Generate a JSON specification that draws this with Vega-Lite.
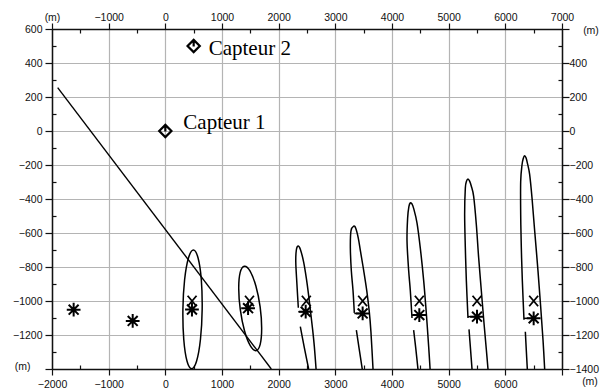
{
  "$schema": "https://vega.github.io/schema/vega-lite/v6.json",
  "width": 510,
  "height": 340,
  "autosize": {"type": "none"},
  "padding": {"left": 52, "top": 29, "right": 49, "bottom": 23},
  "background": "white",
  "config": {
    "view": {"stroke": null},
    "axis": {
      "domainColor": "#111",
      "domainWidth": 1.5,
      "tickColor": "#111",
      "tickWidth": 1.2,
      "labelFont": "Liberation Sans",
      "labelFontSize": 10.5,
      "labelColor": "#111",
      "labelFlush": false,
      "labelOverlap": false,
      "title": null
    }
  },
  "datasets": {
    "open": [
      {"k": "c3", "o": 0, "x": 2347, "y": -1040}, {"k": "c3", "o": 1, "x": 2322, "y": -900}, {"k": "c3", "o": 2, "x": 2302, "y": -770}, {"k": "c3", "o": 3, "x": 2312, "y": -700}, {"k": "c3", "o": 4, "x": 2342, "y": -676}, {"k": "c3", "o": 5, "x": 2382, "y": -695}, {"k": "c3", "o": 6, "x": 2440, "y": -770}, {"k": "c3", "o": 7, "x": 2490, "y": -870}, {"k": "c3", "o": 8, "x": 2530, "y": -970}, {"k": "c3", "o": 9, "x": 2565, "y": -1070}, {"k": "c3", "o": 10, "x": 2600, "y": -1170}, {"k": "c3", "o": 11, "x": 2630, "y": -1270}, {"k": "c3", "o": 12, "x": 2660, "y": -1400},
      {"k": "c3l", "o": 0, "x": 2382, "y": -1151}, {"k": "c3l", "o": 1, "x": 2450, "y": -1270}, {"k": "c3l", "o": 2, "x": 2529, "y": -1400},
      {"k": "c3h", "o": 0, "x": 2347, "y": -1063}, {"k": "c3h", "o": 1, "x": 2477, "y": -1063},
      {"k": "c4", "o": 0, "x": 3335, "y": -1070}, {"k": "c4", "o": 1, "x": 3312, "y": -938}, {"k": "c4", "o": 2, "x": 3282, "y": -821}, {"k": "c4", "o": 3, "x": 3265, "y": -685}, {"k": "c4", "o": 4, "x": 3276, "y": -588}, {"k": "c4", "o": 5, "x": 3324, "y": -559}, {"k": "c4", "o": 6, "x": 3360, "y": -572}, {"k": "c4", "o": 7, "x": 3405, "y": -630}, {"k": "c4", "o": 8, "x": 3445, "y": -710}, {"k": "c4", "o": 9, "x": 3500, "y": -820}, {"k": "c4", "o": 10, "x": 3555, "y": -940}, {"k": "c4", "o": 11, "x": 3598, "y": -1060}, {"k": "c4", "o": 12, "x": 3628, "y": -1180}, {"k": "c4", "o": 13, "x": 3665, "y": -1400},
      {"k": "c4l", "o": 0, "x": 3371, "y": -1171}, {"k": "c4l", "o": 1, "x": 3420, "y": -1280}, {"k": "c4l", "o": 2, "x": 3475, "y": -1400},
      {"k": "c4h", "o": 0, "x": 3335, "y": -1073}, {"k": "c4h", "o": 1, "x": 3482, "y": -1073},
      {"k": "c5", "o": 0, "x": 4353, "y": -1100}, {"k": "c5", "o": 1, "x": 4323, "y": -938}, {"k": "c5", "o": 2, "x": 4294, "y": -821}, {"k": "c5", "o": 3, "x": 4265, "y": -647}, {"k": "c5", "o": 4, "x": 4276, "y": -511}, {"k": "c5", "o": 5, "x": 4298, "y": -445}, {"k": "c5", "o": 6, "x": 4323, "y": -423}, {"k": "c5", "o": 7, "x": 4350, "y": -428}, {"k": "c5", "o": 8, "x": 4382, "y": -455}, {"k": "c5", "o": 9, "x": 4441, "y": -540}, {"k": "c5", "o": 10, "x": 4500, "y": -690}, {"k": "c5", "o": 11, "x": 4559, "y": -880}, {"k": "c5", "o": 12, "x": 4606, "y": -1074}, {"k": "c5", "o": 13, "x": 4647, "y": -1268}, {"k": "c5", "o": 14, "x": 4672, "y": -1400},
      {"k": "c5l", "o": 0, "x": 4382, "y": -1171}, {"k": "c5l", "o": 1, "x": 4420, "y": -1280}, {"k": "c5l", "o": 2, "x": 4458, "y": -1400},
      {"k": "c5h", "o": 0, "x": 4353, "y": -1083}, {"k": "c5h", "o": 1, "x": 4482, "y": -1083},
      {"k": "c6", "o": 0, "x": 5341, "y": -1100}, {"k": "c6", "o": 1, "x": 5312, "y": -880}, {"k": "c6", "o": 2, "x": 5294, "y": -685}, {"k": "c6", "o": 3, "x": 5282, "y": -491}, {"k": "c6", "o": 4, "x": 5294, "y": -336}, {"k": "c6", "o": 5, "x": 5315, "y": -295}, {"k": "c6", "o": 6, "x": 5341, "y": -282}, {"k": "c6", "o": 7, "x": 5370, "y": -295}, {"k": "c6", "o": 8, "x": 5400, "y": -325}, {"k": "c6", "o": 9, "x": 5441, "y": -385}, {"k": "c6", "o": 10, "x": 5488, "y": -550}, {"k": "c6", "o": 11, "x": 5529, "y": -744}, {"k": "c6", "o": 12, "x": 5576, "y": -938}, {"k": "c6", "o": 13, "x": 5624, "y": -1132}, {"k": "c6", "o": 14, "x": 5665, "y": -1287}, {"k": "c6", "o": 15, "x": 5694, "y": -1400},
      {"k": "c6l", "o": 0, "x": 5359, "y": -1167}, {"k": "c6l", "o": 1, "x": 5385, "y": -1280}, {"k": "c6l", "o": 2, "x": 5412, "y": -1400},
      {"k": "c6h", "o": 0, "x": 5341, "y": -1092}, {"k": "c6h", "o": 1, "x": 5500, "y": -1092},
      {"k": "c7", "o": 0, "x": 6329, "y": -1110}, {"k": "c7", "o": 1, "x": 6300, "y": -880}, {"k": "c7", "o": 2, "x": 6282, "y": -685}, {"k": "c7", "o": 3, "x": 6271, "y": -491}, {"k": "c7", "o": 4, "x": 6271, "y": -297}, {"k": "c7", "o": 5, "x": 6294, "y": -200}, {"k": "c7", "o": 6, "x": 6318, "y": -160}, {"k": "c7", "o": 7, "x": 6341, "y": -146}, {"k": "c7", "o": 8, "x": 6365, "y": -158}, {"k": "c7", "o": 9, "x": 6390, "y": -190}, {"k": "c7", "o": 10, "x": 6429, "y": -255}, {"k": "c7", "o": 11, "x": 6471, "y": -394}, {"k": "c7", "o": 12, "x": 6518, "y": -588}, {"k": "c7", "o": 13, "x": 6576, "y": -821}, {"k": "c7", "o": 14, "x": 6624, "y": -1035}, {"k": "c7", "o": 15, "x": 6665, "y": -1229}, {"k": "c7", "o": 16, "x": 6694, "y": -1400},
      {"k": "c7l", "o": 0, "x": 6353, "y": -1181}, {"k": "c7l", "o": 1, "x": 6370, "y": -1290}, {"k": "c7l", "o": 2, "x": 6388, "y": -1400},
      {"k": "c7h", "o": 0, "x": 6329, "y": -1102}, {"k": "c7h", "o": 1, "x": 6500, "y": -1102}
    ],
    "closed": [
      {"k": "e1", "o": 0, "x": 650, "y": -1050}, {"k": "e1", "o": 1, "x": 635, "y": -875}, {"k": "e1", "o": 2, "x": 578, "y": -747}, {"k": "e1", "o": 3, "x": 495, "y": -700}, {"k": "e1", "o": 4, "x": 408, "y": -747}, {"k": "e1", "o": 5, "x": 340, "y": -875}, {"k": "e1", "o": 6, "x": 310, "y": -1050}, {"k": "e1", "o": 7, "x": 325, "y": -1225}, {"k": "e1", "o": 8, "x": 382, "y": -1353}, {"k": "e1", "o": 9, "x": 465, "y": -1398}, {"k": "e1", "o": 10, "x": 552, "y": -1353}, {"k": "e1", "o": 11, "x": 620, "y": -1225},
      {"k": "e2", "o": 0, "x": 1600, "y": -1292}, {"k": "e2", "o": 1, "x": 1674, "y": -1255}, {"k": "e2", "o": 2, "x": 1700, "y": -1161}, {"k": "e2", "o": 3, "x": 1673, "y": -1035}, {"k": "e2", "o": 4, "x": 1598, "y": -912}, {"k": "e2", "o": 5, "x": 1496, "y": -824}, {"k": "e2", "o": 6, "x": 1395, "y": -795}, {"k": "e2", "o": 7, "x": 1321, "y": -832}, {"k": "e2", "o": 8, "x": 1295, "y": -926}, {"k": "e2", "o": 9, "x": 1323, "y": -1051}, {"k": "e2", "o": 10, "x": 1397, "y": -1175}, {"k": "e2", "o": 11, "x": 1499, "y": -1263}
    ],
    "straight": [
      {"o": 0, "x": -1900, "y": 255}, {"o": 1, "x": 1870, "y": -1400}
    ],
    "stars": [
      {"x": -1618, "y": -1051}, {"x": -576, "y": -1117}, {"x": 470, "y": -1050}, {"x": 1460, "y": -1042}, {"x": 2477, "y": -1063}, {"x": 3482, "y": -1073}, {"x": 4482, "y": -1083}, {"x": 5500, "y": -1092}, {"x": 6500, "y": -1102}
    ],
    "crosses": [
      {"x": 472, "y": -1000}, {"x": 1485, "y": -1000}, {"x": 2488, "y": -1000}, {"x": 3482, "y": -1000}, {"x": 4482, "y": -1000}, {"x": 5500, "y": -1000}, {"x": 6500, "y": -1000}
    ],
    "sensors": [
      {"name": "Capteur 1", "x": 0, "y": 0}, {"name": "Capteur 2", "x": 500, "y": 500}
    ],
    "units": [
      {"where": "bottom-right", "x": 7000, "y": -1400, "t": "(m)"},
      {"where": "right-top", "x": 7000, "y": 600, "t": "(m)"}
    ]
  },
  "layer": [
    {
      "data": {"name": "open"},
      "mark": {"type": "line", "interpolate": "cardinal", "color": "#000", "strokeWidth": 1.5, "clip": true},
      "encoding": {
        "x": {"field": "x", "type": "quantitative", "scale": {"domain": [-2000, 7000], "nice": false, "zero": false},
          "axis": {
            "orient": "bottom",
            "values": [-2000, -1500, -1000, -500, 0, 500, 1000, 1500, 2000, 2500, 3000, 3500, 4000, 4500, 5000, 5500, 6000, 6500, 7000],
            "format": "d",
            "labelExpr": "datum.value == 7000 ? '' : (datum.value % 1000 == 0 ? datum.label : '')",
            "tickSize": {"condition": {"test": "datum.value % 1000 == 0", "value": 6}, "value": -4},
            "labelPadding": 4,
            "grid": true,
            "gridColor": "#b4b4b4",
            "gridWidth": 1.2,
            "gridOpacity": {"condition": {"test": "datum.value % 1000 == 0", "value": 1}, "value": 0}
          }},
        "y": {"field": "y", "type": "quantitative", "scale": {"domain": [-1400, 600], "nice": false, "zero": false},
          "axis": {
            "orient": "left",
            "values": [-1400, -1300, -1200, -1100, -1000, -900, -800, -700, -600, -500, -400, -300, -200, -100, 0, 100, 200, 300, 400, 500, 600],
            "format": "d",
            "labelExpr": "datum.value == -1400 ? '(m)' : (datum.value % 200 == 0 ? datum.label : '')",
            "tickSize": {"condition": {"test": "datum.value % 200 == 0", "value": 7}, "value": -4},
            "labelPadding": {"condition": {"test": "datum.value == -1400", "value": 15}, "value": 3},
            "labelOffset": {"condition": {"test": "datum.value == -1400", "value": -3}, "value": 0},
            "grid": true,
            "gridColor": "#b4b4b4",
            "gridWidth": 1.2,
            "gridOpacity": {"condition": {"test": "datum.value % 200 == 0", "value": 1}, "value": 0}
          }},
        "detail": {"field": "k", "type": "nominal"},
        "order": {"field": "o", "type": "quantitative"}
      }
    },
    {
      "data": {"name": "closed"},
      "mark": {"type": "line", "interpolate": "cardinal-closed", "color": "#000", "strokeWidth": 1.5, "clip": true},
      "encoding": {
        "x": {"field": "x", "type": "quantitative",
          "axis": {
            "orient": "top",
            "values": [-2000, -1500, -1000, -500, 0, 500, 1000, 1500, 2000, 2500, 3000, 3500, 4000, 4500, 5000, 5500, 6000, 6500, 7000],
            "format": "d",
            "labelExpr": "datum.value == -2000 ? '(m)' : (datum.value % 1000 == 0 ? datum.label : '')",
            "tickSize": {"condition": {"test": "datum.value % 1000 == 0", "value": 6}, "value": -4},
            "labelPadding": 1,
            "grid": false
          }},
        "y": {"field": "y", "type": "quantitative",
          "axis": {
            "orient": "right",
            "values": [-1400, -1300, -1200, -1100, -1000, -900, -800, -700, -600, -500, -400, -300, -200, -100, 0, 100, 200, 300, 400, 500, 600],
            "format": "d",
            "labelExpr": "datum.value == 600 ? '' : (datum.value % 200 == 0 ? datum.label : '')",
            "tickSize": {"condition": {"test": "datum.value % 200 == 0", "value": 7}, "value": -4},
            "labelPadding": 0,
            "grid": false
          }},
        "detail": {"field": "k", "type": "nominal"},
        "order": {"field": "o", "type": "quantitative"}
      }
    },
    {
      "data": {"name": "straight"},
      "mark": {"type": "line", "color": "#000", "strokeWidth": 1.4, "clip": true},
      "encoding": {
        "x": {"field": "x", "type": "quantitative", "axis": null},
        "y": {"field": "y", "type": "quantitative", "axis": null},
        "order": {"field": "o", "type": "quantitative"}
      }
    },
    {
      "data": {"name": "stars"},
      "mark": {"type": "point", "shape": "M0,-1L0,1M-1,0L1,0M-0.72,-0.72L0.72,0.72M-0.72,0.72L0.72,-0.72", "size": 190, "stroke": "#000", "strokeWidth": 2, "filled": false, "opacity": 1},
      "encoding": {
        "x": {"field": "x", "type": "quantitative", "axis": null},
        "y": {"field": "y", "type": "quantitative", "axis": null}
      }
    },
    {
      "data": {"name": "crosses"},
      "mark": {"type": "point", "shape": "M-0.85,-1L0.85,1M-0.85,1L0.85,-1", "size": 110, "stroke": "#000", "strokeWidth": 1.8, "filled": false, "opacity": 1},
      "encoding": {
        "x": {"field": "x", "type": "quantitative", "axis": null},
        "y": {"field": "y", "type": "quantitative", "axis": null}
      }
    },
    {
      "data": {"name": "sensors"},
      "mark": {"type": "point", "shape": "M0,-1L1,0L0,1L-1,0ZM0,-1L0,0.1", "size": 150, "stroke": "#000", "strokeWidth": 2.2, "filled": false, "opacity": 1},
      "encoding": {
        "x": {"field": "x", "type": "quantitative", "axis": null},
        "y": {"field": "y", "type": "quantitative", "axis": null}
      }
    },
    {
      "data": {"name": "sensors"},
      "transform": [{"filter": "datum.name == 'Capteur 1'"}],
      "mark": {"type": "text", "font": "Liberation Serif", "fontSize": 21, "color": "#000", "align": "left", "baseline": "alphabetic", "dx": 18, "dy": -2},
      "encoding": {
        "x": {"field": "x", "type": "quantitative", "axis": null},
        "y": {"field": "y", "type": "quantitative", "axis": null},
        "text": {"field": "name"}
      }
    },
    {
      "data": {"name": "sensors"},
      "transform": [{"filter": "datum.name == 'Capteur 2'"}],
      "mark": {"type": "text", "font": "Liberation Serif", "fontSize": 21, "color": "#000", "align": "left", "baseline": "alphabetic", "dx": 15, "dy": 9},
      "encoding": {
        "x": {"field": "x", "type": "quantitative", "axis": null},
        "y": {"field": "y", "type": "quantitative", "axis": null},
        "text": {"field": "name"}
      }
    },
    {
      "data": {"name": "units"},
      "transform": [{"filter": "datum.where == 'bottom-right'"}],
      "mark": {"type": "text", "font": "Liberation Sans", "fontSize": 10.5, "color": "#111", "align": "center", "baseline": "middle", "dx": 28, "dy": 13, "clip": false},
      "encoding": {
        "x": {"field": "x", "type": "quantitative", "axis": null},
        "y": {"field": "y", "type": "quantitative", "axis": null},
        "text": {"field": "t"}
      }
    },
    {
      "data": {"name": "units"},
      "transform": [{"filter": "datum.where == 'right-top'"}],
      "mark": {"type": "text", "font": "Liberation Sans", "fontSize": 10.5, "color": "#111", "align": "center", "baseline": "middle", "dx": 29, "dy": 2, "clip": false},
      "encoding": {
        "x": {"field": "x", "type": "quantitative", "axis": null},
        "y": {"field": "y", "type": "quantitative", "axis": null},
        "text": {"field": "t"}
      }
    }
  ],
  "resolve": {"axis": {"x": "independent", "y": "independent"}}
}
